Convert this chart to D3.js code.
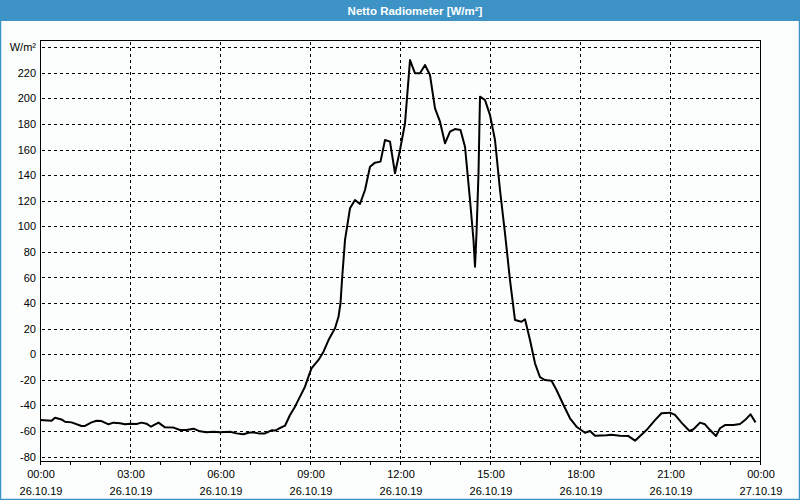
<!DOCTYPE html>
<html><head><meta charset="utf-8">
<script src="https://cdn.jsdelivr.net/npm/d3@7"></script>
<style>html,body{margin:0;padding:0;background:#fbfefc;}svg{display:block;}</style>
</head><body>
<svg id="chart" width="800" height="500"></svg>
<script>
const title = "Netto Radiometer [W/m²]";
const unitLabel = "W/m²";
const times = ["00:00","00:23","00:30","00:43","00:50","01:03","01:23","01:30","01:43","01:53","02:03","02:17","02:27","02:40","02:50","03:00","03:13","03:23","03:33","03:42","03:57","04:10","04:27","04:40","04:53","05:07","05:20","05:33","05:47","06:00","06:20","06:33","06:47","06:57","07:07","07:17","07:30","07:43","07:50","07:57","08:10","08:20","08:30","08:40","08:50","08:58","09:03","09:17","09:27","09:37","09:50","09:57","10:01","10:04","10:10","10:20","10:30","10:40","10:50","11:00","11:10","11:21","11:30","11:40","11:50","12:00","12:10","12:20","12:30","12:40","12:50","13:00","13:10","13:20","13:30","13:40","13:50","14:01","14:10","14:20","14:27","14:30","14:33","14:37","14:40","14:50","15:00","15:10","15:20","15:30","15:40","15:50","16:03","16:10","16:20","16:30","16:40","16:50","17:03","17:13","17:27","17:40","17:53","18:10","18:20","18:30","18:53","19:03","19:20","19:37","19:50","20:13","20:30","20:43","21:00","21:10","21:23","21:39","21:47","22:00","22:10","22:20","22:32","22:40","22:50","23:07","23:20","23:30","23:41","23:51"];
const values = [-51.5,-52,-49.7,-51,-52.8,-53.3,-56.1,-56.1,-53.3,-52,-52.3,-54.8,-53.5,-54,-54.8,-54.3,-54.5,-53.5,-54.3,-56.7,-53.5,-57.2,-57.4,-59.3,-59.3,-58.2,-60.3,-61.1,-60.6,-61.1,-60.6,-61.9,-62.6,-61.4,-61.1,-61.9,-61.9,-59.5,-59.7,-58.3,-55.9,-47.5,-41,-33.2,-25.4,-16.3,-11,-4.5,2,11.1,20.3,29.3,39.8,58,89.3,114.1,120.6,117.5,128.4,146.6,149.8,150.6,167.5,166.2,141.5,159.7,180.6,230,219.7,219.7,226.2,218.3,192.3,181.8,164.9,174,176.1,175.3,162.3,120.6,89.3,68.4,94.5,141.5,201.4,198.8,187,167.5,128.4,94.5,58,26.7,25.4,27.3,11.1,-7.1,-18,-20.2,-20.7,-28,-39.7,-50.1,-56.7,-61.4,-60,-63.7,-63.4,-62.9,-63.7,-64,-67.6,-59.3,-51.5,-46.2,-45.7,-47.5,-53.5,-60,-58.7,-53.5,-54.8,-59.3,-64,-57.9,-55.4,-55.4,-54.6,-51.5,-47,-53.3];
const yTicks = [-80,-60,-40,-20,0,20,40,60,80,100,120,140,160,180,200,220,240];
const xTickTimes = ["00:00","03:00","06:00","09:00","12:00","15:00","18:00","21:00","00:00"];
const xTickDates = ["26.10.19","26.10.19","26.10.19","26.10.19","26.10.19","26.10.19","26.10.19","26.10.19","27.10.19"];
const dayStart = "2019-10-26T00:00";
const dayEnd = "2019-10-27T00:00";

const svg = d3.select("#chart");
const W = 800, H = 500;
const L = 40, R = 760, T = 40, B = 461;
const font = "'Liberation Sans', Arial, sans-serif";

svg.append("rect").attr("x",0).attr("y",0).attr("width",W).attr("height",H).attr("fill","#fbfefc");
svg.append("rect").attr("x",0).attr("y",0).attr("width",W).attr("height",21).attr("fill","#3d93c5");
svg.append("rect").attr("x",0.5).attr("y",0.5).attr("width",W-1).attr("height",H-1)
  .attr("fill","none").attr("stroke","#3d93c5").attr("stroke-width",1.5);
svg.append("text").attr("x",415).attr("y",10.5).attr("text-anchor","middle").attr("dominant-baseline","central")
  .attr("fill","#fff").attr("font-family",font).attr("font-weight","bold").attr("font-size",11.5).text(title);

const parse = d3.timeParse("%Y-%m-%dT%H:%M");
const x = d3.scaleTime().domain([parse(dayStart), parse(dayEnd)]).range([L, R]);
const y = d3.scaleLinear().domain([-83.5, 245.7]).range([B, T]);
const data = times.map((t,i)=>({t: parse("2019-10-26T"+t), v: values[i]}));

// grid
const grid = svg.append("g").attr("stroke","#000").attr("stroke-width",1).attr("stroke-dasharray","3,3").attr("shape-rendering","crispEdges");
yTicks.forEach(v=>{
  const yy = Math.round(y(v))+0.5;
  grid.append("line").attr("x1",L+2).attr("x2",R).attr("y1",yy).attr("y2",yy);
});
const majorTicks = x.ticks(d3.timeHour.every(3));
majorTicks.slice(1,-1).forEach(d=>{
  const xx = Math.round(x(d))+0.5;
  grid.append("line").attr("x1",xx).attr("x2",xx).attr("y1",T+2).attr("y2",B);
});

// line
const line = d3.line().x(d=>x(d.t)).y(d=>y(d.v));
svg.append("path").datum(data).attr("d",line).attr("fill","none").attr("stroke","#000")
  .attr("stroke-width",2).attr("stroke-linejoin","round");

// frame
svg.append("rect").attr("x",L+0.5).attr("y",T+0.5).attr("width",R-L).attr("height",B-T)
  .attr("fill","none").attr("stroke","#000").attr("stroke-width",1).attr("shape-rendering","crispEdges");

// y axis
const yAxis = d3.axisLeft(y).tickValues(yTicks).tickSize(0).tickPadding(4)
  .tickFormat(v => v === 240 ? unitLabel : String(v));
const gy = svg.append("g").attr("transform",`translate(${L},0)`).call(yAxis);
gy.select(".domain").remove();
gy.selectAll("text").attr("font-family",font).attr("font-size",11).attr("fill","#000");

// x axis (hourly ticks, labels every 3h)
const xAxis = d3.axisBottom(x).ticks(d3.timeHour.every(1)).tickSize(3).tickFormat("");
const gx = svg.append("g").attr("transform",`translate(0,${B+0.5})`).call(xAxis);
gx.select(".domain").remove();
gx.selectAll("line").attr("stroke","#000").attr("shape-rendering","crispEdges");
const lbl = svg.append("g").attr("font-family",font).attr("font-size",11).attr("fill","#000").attr("text-anchor","middle");
majorTicks.forEach((d,i)=>{
  const xx = x(d)+1;
  lbl.append("text").attr("x",xx).attr("y",478).text(xTickTimes[i]);
  lbl.append("text").attr("x",xx).attr("y",495).text(xTickDates[i]);
});
</script>
</body></html>
